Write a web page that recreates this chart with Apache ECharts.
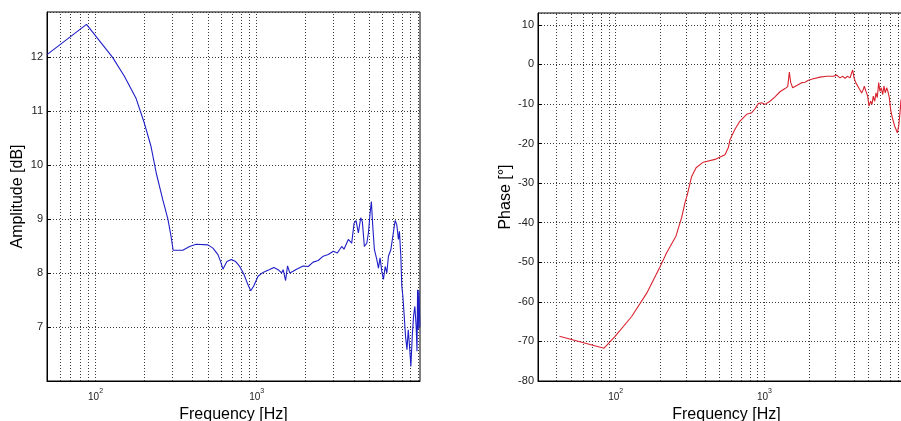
<!DOCTYPE html>
<html>
<head>
<meta charset="utf-8">
<script src="https://cdn.jsdelivr.net/npm/echarts@6/dist/echarts.min.js"></script>
<style>
html,body{margin:0;padding:0;background:#fff;}
#c{width:901px;height:421px;}
</style>
</head>
<body>
<div id="c"></div>
<script>
// ---- Amplitude (left) ----
const ampFreq = [50, 87.9, 127.6, 151, 178, 201, 221, 238, 261, 281, 294, 303, 348, 383, 421, 498, 535, 575, 597, 617, 653, 696, 740, 784, 834, 883, 918, 958, 1019, 1094, 1193, 1277, 1358, 1425, 1459, 1510, 1553, 1604, 1682, 1766, 1941, 2084, 2240, 2406, 2585, 2778, 2987, 3055, 3162, 3365, 3478, 3700, 3882, 4015, 4131, 4270, 4416, 4521, 4652, 4815, 4930, 5049, 5143, 5248, 5370, 5555, 5688, 5821, 5970, 6109, 6266, 6412, 6562, 6792, 6986, 7222, 7396, 7570, 7678, 7834, 7943, 8064, 8222, 8375, 8551, 8710, 8872, 9040, 9223, 9394, 9570, 9751, 9870, 9950, 10050, 10150, 10280];
const ampDb = [12.04, 12.60, 11.99, 11.64, 11.24, 10.77, 10.34, 9.85, 9.36, 9.0, 8.68, 8.42, 8.42, 8.49, 8.53, 8.52, 8.46, 8.34, 8.21, 8.07, 8.21, 8.25, 8.21, 8.12, 7.97, 7.78, 7.67, 7.76, 7.94, 8.01, 8.06, 8.10, 8.06, 8.00, 8.06, 7.86, 8.13, 8.00, 8.03, 8.07, 8.13, 8.12, 8.20, 8.23, 8.31, 8.34, 8.40, 8.42, 8.37, 8.49, 8.44, 8.62, 8.55, 8.92, 8.97, 8.74, 9.02, 8.95, 8.49, 8.55, 8.74, 9.11, 9.32, 8.86, 8.43, 8.25, 8.09, 8.28, 8.03, 7.88, 8.12, 8.00, 8.31, 8.43, 8.68, 8.97, 8.89, 8.62, 8.77, 8.31, 7.75, 7.57, 7.20, 6.83, 6.58, 6.95, 6.64, 6.27, 6.83, 7.20, 7.38, 7.01, 6.55, 7.69, 6.95, 7.67, 7.0];

// ---- Phase (right) ----
const phFreq = [41.8, 83.4, 99, 128, 161.6, 196, 220, 254, 278, 292, 303, 324, 347, 388, 465, 543, 572, 587, 634, 685, 760, 822, 865, 910, 959, 1009, 1091, 1178, 1273, 1376, 1435, 1471, 1503, 1549, 1648, 1782, 1875, 1974, 2133, 2366, 2624, 2907, 3062, 3222, 3363, 3484, 3612, 3767, 3864, 3926, 4008, 4113, 4218, 4307, 4397, 4510, 4625, 4697, 4822, 4950, 5049, 5183, 5291, 5397, 5517, 5629, 5741, 5869, 5986, 6108, 6247, 6370, 6502, 6640, 6771, 6918, 7064, 7211, 7362, 7516, 7674, 7834, 7998, 8166, 8296, 8500];
const phDeg = [-68.7, -71.7, -68.7, -63.7, -57.8, -51.6, -47.6, -43.4, -38.6, -35.0, -32.9, -28.3, -26.1, -24.7, -24.0, -22.8, -21.0, -19.0, -16.4, -14.3, -12.6, -12.2, -11.2, -9.9, -9.7, -10.1, -9.3, -8.2, -6.9, -6.1, -5.6, -1.9, -4.6, -5.9, -5.3, -4.6, -4.5, -4.0, -3.6, -3.2, -3.0, -3.0, -2.7, -3.4, -3.0, -3.5, -3.0, -3.4, -2.1, -1.4, -3.4, -4.6, -4.2, -5.9, -5.5, -7.2, -6.3, -5.5, -6.8, -8.0, -10.5, -9.3, -10.1, -8.0, -9.3, -7.2, -8.4, -4.6, -6.8, -5.9, -7.6, -5.5, -7.2, -5.9, -6.8, -8.4, -11.4, -13.1, -13.5, -15.6, -16.4, -17.3, -15.6, -12.2, -8.9, -11.0];

// ---- grid line frequencies ----
const ampGridFreq = [60, 70, 80, 90, 100, 200, 300, 400, 500, 600, 700, 800, 900, 1000, 2000, 3000, 4000, 5000, 6000, 7000, 8000, 9000, 10000];
const phGridFreq = [40, 50, 60, 70, 80, 90, 100, 200, 300, 400, 500, 600, 700, 800, 900, 1000, 2000, 3000, 4000, 5000, 6000, 7000, 8000, 9000, 10000];
// labelled decades
const labelDecades = [100, 1000];

const FONT = "'Liberation Sans', Arial, Helvetica, sans-serif";
const gridLine = {type: [1, 2], color: '#3a3a3a', width: 1};

function xAxisCfg(idx, mn, mx) {
  return {
    type: 'log', logBase: 10, gridIndex: idx, min: mn, max: mx,
    axisLine: {show: true, onZero: false, lineStyle: {color: '#000', width: 1}},
    axisTick: {show: false},
    splitLine: {show: false},
    axisLabel: {
      showMinLabel: false, showMaxLabel: false, margin: 7, color: '#222', fontFamily: FONT,
      formatter: function (v) {
        const ok = labelDecades.some(d => Math.abs(v - d) < d * 0.01);
        if (!ok) return '';
        const e = Math.round(Math.log10(v));
        return '{b|10}{s|' + e + '}';
      },
      rich: {
        b: {fontSize: 10, lineHeight: 14, verticalAlign: 'bottom', color: '#222', fontFamily: FONT},
        s: {fontSize: 7, lineHeight: 6, verticalAlign: 'top', color: '#222', fontFamily: FONT}
      }
    },
    name: 'Frequency [Hz]', nameLocation: 'middle', nameGap: 18,
    nameTextStyle: {fontSize: 16, color: '#000', fontFamily: FONT}
  };
}

function yAxisCfg(idx, mn, mx, iv, name, gap, showMin) {
  return {
    type: 'value', gridIndex: idx, min: mn, max: mx, interval: iv,
    axisLine: {show: true, onZero: false, lineStyle: {color: '#000', width: 1}},
    axisTick: {show: true, inside: true, length: 4, lineStyle: {color: '#000'}},
    splitLine: {show: true, lineStyle: gridLine},
    axisLabel: {showMinLabel: showMin, showMaxLabel: false, margin: 4, fontSize: 11, color: '#222', fontFamily: FONT},
    name: name, nameLocation: 'middle', nameGap: gap,
    nameTextStyle: {fontSize: 16, color: '#000', fontFamily: FONT}
  };
}

function vLines(freqs) {
  return {
    silent: true, symbol: ['none', 'none'], z: 1, animation: false,
    label: {show: false},
    lineStyle: gridLine,
    emphasis: {disabled: true},
    data: freqs.map(f => ({xAxis: f}))
  };
}

const chart = echarts.init(document.getElementById('c'), null, {renderer: 'canvas'});
chart.setOption({
  backgroundColor: '#fff',
  animation: false,
  grid: [
    {left: 47, top: 12, width: 373, height: 369, show: true, borderColor: '#000', borderWidth: 1, backgroundColor: 'transparent', outerBoundsMode: 'none', containLabel: false},
    {left: 538, top: 13, width: 377, height: 368, show: true, borderColor: '#000', borderWidth: 1, backgroundColor: 'transparent', outerBoundsMode: 'none', containLabel: false}
  ],
  xAxis: [xAxisCfg(0, 50, 10300), xAxisCfg(1, 30, 10300)],
  yAxis: [
    yAxisCfg(0, 6, 12.83, 1, 'Amplitude [dB]', 21, false),
    yAxisCfg(1, -80, 13, 10, 'Phase [°]', 24, true)
  ],
  series: [
    {
      type: 'line', xAxisIndex: 0, yAxisIndex: 0, z: 3,
      data: ampFreq.map((f, i) => [f, ampDb[i]]),
      showSymbol: false, symbol: 'none',
      lineStyle: {color: '#1f1fc8', width: 1.1},
      markLine: vLines(ampGridFreq)
    },
    {
      type: 'line', xAxisIndex: 1, yAxisIndex: 1, z: 3,
      data: phFreq.map((f, i) => [f, phDeg[i]]),
      showSymbol: false, symbol: 'none',
      lineStyle: {color: '#d8232f', width: 1.1},
      markLine: vLines(phGridFreq)
    }
  ]
});
</script>
</body>
</html>
